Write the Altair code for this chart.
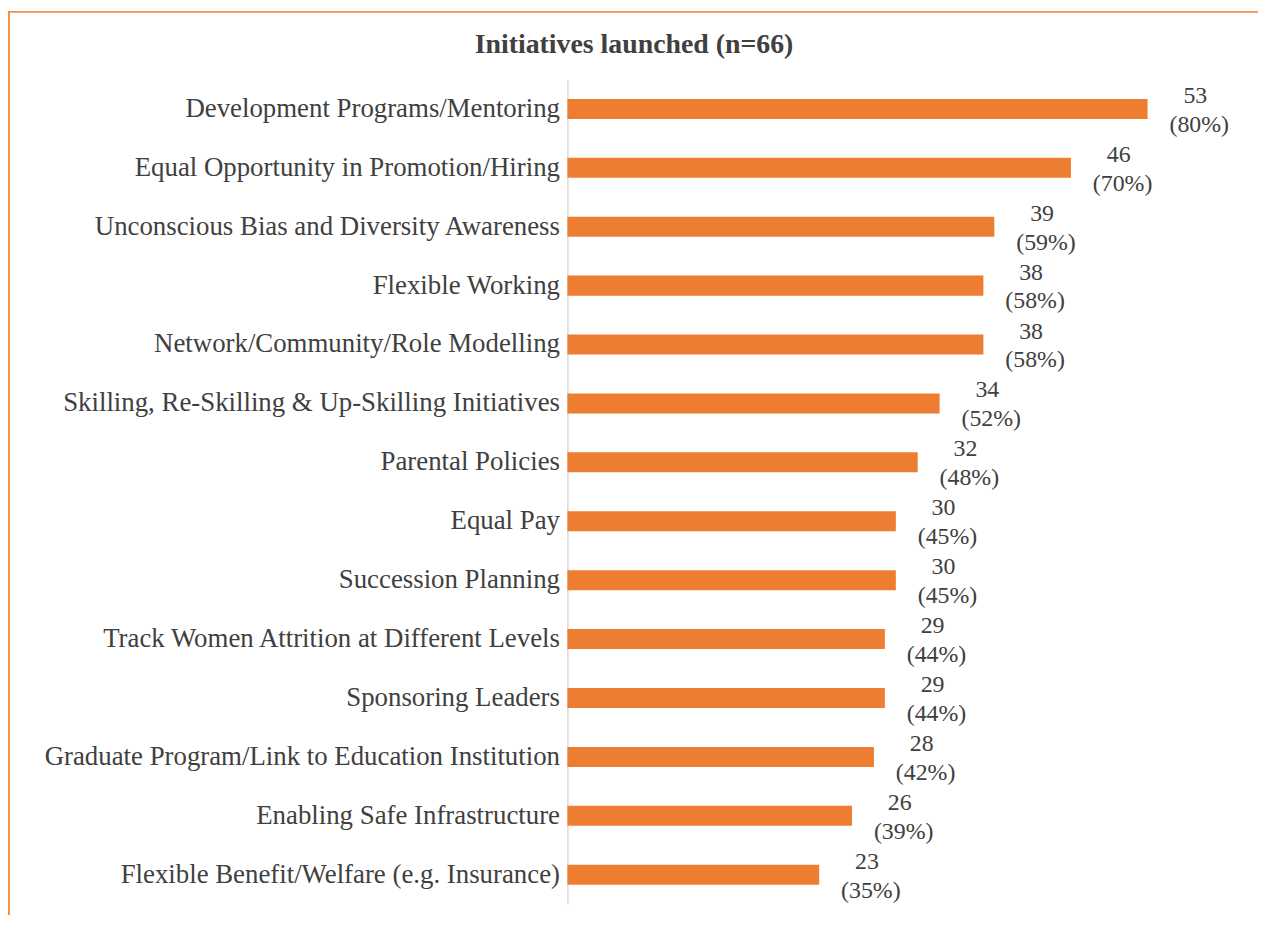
import altair as alt
import pandas as pd

categories = [
    "Development Programs/Mentoring",
    "Equal Opportunity in Promotion/Hiring",
    "Unconscious Bias and Diversity Awareness",
    "Flexible Working",
    "Network/Community/Role Modelling",
    "Skilling, Re-Skilling & Up-Skilling Initiatives",
    "Parental Policies",
    "Equal Pay",
    "Succession Planning",
    "Track Women Attrition at Different Levels",
    "Sponsoring Leaders",
    "Graduate Program/Link to Education Institution",
    "Enabling Safe Infrastructure",
    "Flexible Benefit/Welfare (e.g. Insurance)",
]
counts = [53, 46, 39, 38, 38, 34, 32, 30, 30, 29, 29, 28, 26, 23]
percents = ["(80%)", "(70%)", "(59%)", "(58%)", "(58%)", "(52%)", "(48%)",
            "(45%)", "(45%)", "(44%)", "(44%)", "(42%)", "(39%)", "(35%)"]

df = pd.DataFrame({"category": categories, "count": counts, "pct": percents})

FONT = "Liberation Serif"
TEXT = "#404040"
ORANGE = "#ED7D31"

y = alt.Y(
    "category:N",
    sort=categories,
    scale=alt.Scale(paddingInner=0.66, paddingOuter=0.33),
    axis=alt.Axis(title=None, ticks=False, domainColor="#d9d9d9", domainWidth=1.5,
                  labelFont=FONT, labelFontSize=27, labelColor=TEXT,
                  labelPadding=8, labelLimit=0),
)
x = alt.X("count:Q", scale=alt.Scale(domain=[0, 60]), axis=None)

base = alt.Chart(df)
bars = base.mark_bar(color=ORANGE).encode(x=x, y=y)
num = base.mark_text(align="center", baseline="alphabetic", dx=48, dy=-6,
                     font=FONT, fontSize=24, color=TEXT).encode(x=x, y=y, text="count:Q")
pct = base.mark_text(align="center", baseline="alphabetic", dx=52, dy=23,
                     font=FONT, fontSize=24, color=TEXT).encode(x=x, y=y, text="pct:N")

frame = pd.DataFrame({"k": [0]})
top = alt.Chart(frame).mark_rule(color="#F4914D", strokeWidth=2).encode(
    x=alt.value(-563), x2=alt.value(700), y=alt.value(-68))
left = alt.Chart(frame).mark_rule(color="#F4914D", strokeWidth=2).encode(
    x=alt.value(-562), y=alt.value(-69), y2=alt.value(900))

chart = alt.layer(bars, num, pct, top, left).properties(
    width=661,
    height=830,
    title=alt.TitleParams("Initiatives launched (n=66)", anchor="start", align="center",
                          frame="group", dx=67, dy=93, offset=22, baseline="alphabetic",
                          font=FONT, fontSize=28, fontWeight="bold", color=TEXT),
    padding={"left": 563, "top": 69, "right": 34, "bottom": 8},
    autosize="none",
).configure_view(stroke=None)

chart.save("out.html", embed_options={"renderer": "svg", "actions": False})
